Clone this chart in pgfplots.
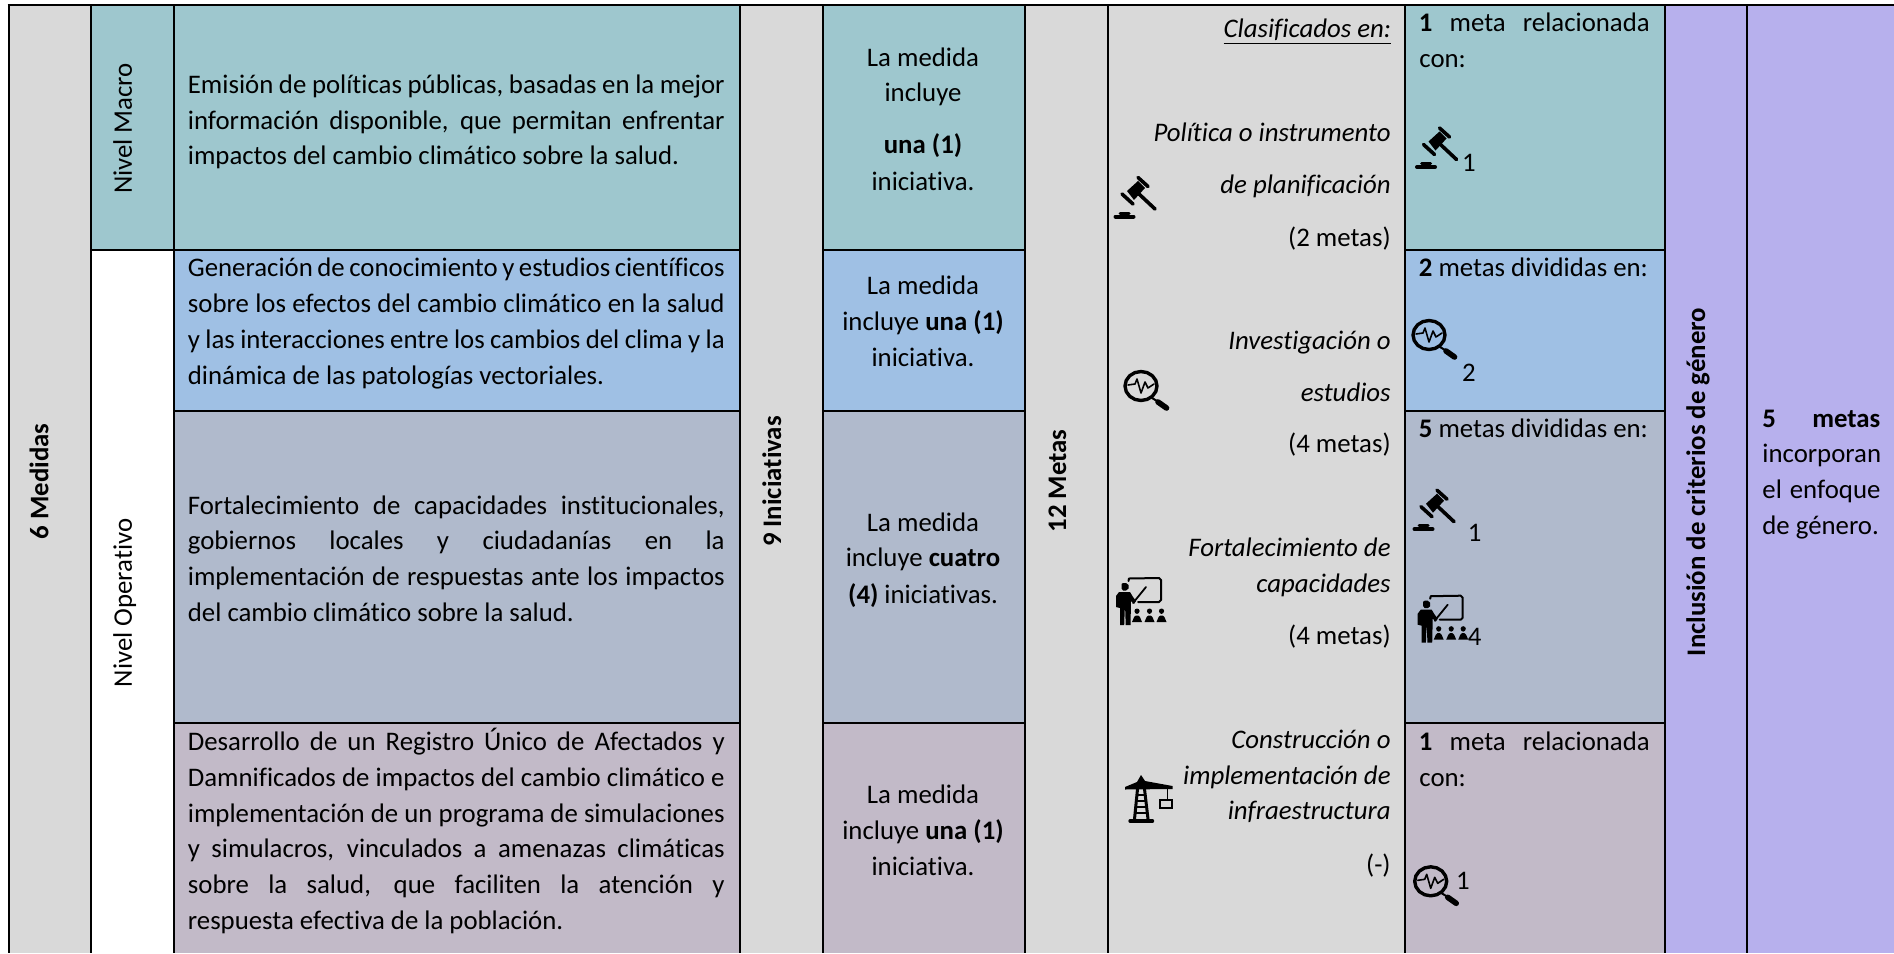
\documentclass[border=0pt]{standalone}
\usepackage{pgfplots}
\pgfplotsset{compat=1.18}
\usepackage{fontspec}
\setmainfont[Ligatures=NoCommon]{Carlito}
\definecolor{cgray}{HTML}{D9D9D9}
\definecolor{cteal}{HTML}{9EC7CE}
\definecolor{cblue}{HTML}{9FC0E4}
\definecolor{cslate}{HTML}{B0BACC}
\definecolor{cmauve}{HTML}{C2BAC8}
\definecolor{cpurple}{HTML}{B7B0ED}
\newcommand\fs{\fontsize{13.4}{13.4}\selectfont}
\newcommand\cell[5]{\addplot[fill=#5,draw=none] coordinates {(#1,#2)(#3,#2)(#3,#4)(#1,#4)} --cycle;}
\newcommand\vln[1]{\addplot[black,line width=1.15pt] coordinates {(#1,5)(#1,953)};}
\newcommand\hln[3]{\addplot[black,line width=1.05pt] coordinates {(#1,#3)(#2,#3)};}
\newcommand\jtx[4]{\node[anchor=base west,inner sep=0pt] at (axis cs:#1,#2+1) {\fs\makebox[#3pt][s]{#4}};}
\newcommand\ltx[3]{\node[anchor=base west,inner sep=0pt] at (axis cs:#1,#2+1) {\fs #3};}
\newcommand\ctx[3]{\node[anchor=base,inner sep=0pt] at (axis cs:#1,#2+1) {\fs #3};}
\newcommand\rtx[3]{\node[anchor=base east,inner sep=0pt] at (axis cs:#1,#2+1) {\fs #3};}
\newcommand\vtx[3]{\node[anchor=base,rotate=90,inner sep=0pt] at (axis cs:#1,#2) {\fs #3};}
\pgfplotsset{icon/.style 2 args={x filter/.expression={#1+x},y filter/.expression={#2+y}}}
\newcommand\stk[4]{\addplot[black,line width=#3pt,line cap=round,line join=round,icon={#1}{#2}] coordinates {#4};}
\newcommand\pol[3]{\addplot[fill=black,draw=none,icon={#1}{#2}] coordinates {#3} --cycle;}
\newcommand\gavel[2]{%
 \stk{#1}{#2}{2}{(15.5,56.5)(33.5,56.5)}
 \stk{#1}{#2}{1.5}{(20,53)(29,53)}
 \stk{#1}{#2}{1.8}{(22,34)(33,44)}
 \stk{#1}{#2}{1.8}{(38,17.5)(48,26.5)}
 \pol{#1}{#2}{(27,31)(38,21)(45,28)(34,40)}
 \stk{#1}{#2}{1.8}{(39,34)(55,49)}
}
\newcommand\lens[2]{%
 \addplot[black,line width=1.7pt,line join=round,icon={#1}{#2}] coordinates {(57,26)(55.8,31.5)(52.3,36.3)(47.1,39.4)(41,40.5)(34.9,39.4)(29.7,36.3)(26.2,31.5)(25,26)(26.2,20.5)(29.7,15.7)(34.9,12.6)(41,11.5)(47.1,12.6)(52.3,15.7)(55.8,20.5)} --cycle;
 \stk{#1}{#2}{0.8}{(28,25)(35,24)(37,19)(41,33)(45,22)(48,28)(54,24)}
 \stk{#1}{#2}{1}{(52,38)(57,41)}
 \stk{#1}{#2}{2.8}{(58,42)(66.5,48)}
}
\newcommand\person[3]{%
 \pol{#1}{#2}{(#3-1.2,45.5)(#3+1.2,45.5)(#3+2.9,47)(#3+5,52)(#3-5,52)(#3-2.9,47)}
 \pol{#1}{#2}{(#3-2.6,41)(#3-1.8,39.2)(#3,38.5)(#3+1.8,39.2)(#3+2.6,41)(#3+1.8,43)(#3,44)(#3-1.8,43)}
}
\newcommand\teacher[2]{%
 \stk{#1}{#2}{1}{(28.5,11)(29,8.5)(59,8)(61,10)(61,30)(59,32)(38,32)}
 \stk{#1}{#2}{0.9}{(33,33)(46,17)}
 \pol{#1}{#2}{(21.5,14)(23,13)(26,13)(28.5,15)(28.5,18.5)(26,20.5)(23,20.5)(21.5,18.5)}
 \pol{#1}{#2}{(19,22)(30,22)(33,27)(36,31)(34,34)(31,31)(30.5,55)(25.7,55)(25.2,40)(24.7,40)(24.2,55)(20,55)(20,38)(16,37)(16,26)}
 \person{#1}{#2}{37}
 \person{#1}{#2}{49.5}
 \person{#1}{#2}{61.5}
}
\begin{document}
\begin{tikzpicture}
\useasboundingbox (0,0) rectangle (947pt,476.5pt);
\begin{axis}[at={(0,0)},anchor=south west,scale only axis,width=947pt,height=476.5pt,
  xmin=0,xmax=1894,ymin=0,ymax=953,y dir=reverse,hide axis]
% --- cell fills
\cell{8.7}{5}{91}{953}{cgray}
\cell{91}{5}{173.5}{250}{cteal}
\cell{173.5}{5}{740}{250}{cteal}
\cell{173.5}{250}{740}{411}{cblue}
\cell{173.5}{411}{740}{723}{cslate}
\cell{173.5}{723}{740}{953}{cmauve}
\cell{740}{5}{823}{953}{cgray}
\cell{823}{5}{1025}{250}{cteal}
\cell{823}{250}{1025}{411}{cblue}
\cell{823}{411}{1025}{723}{cslate}
\cell{823}{723}{1025}{953}{cmauve}
\cell{1025}{5}{1405}{953}{cgray}
\cell{1405}{5}{1665}{250}{cteal}
\cell{1405}{250}{1665}{411}{cblue}
\cell{1405}{411}{1665}{723}{cslate}
\cell{1405}{723}{1665}{953}{cmauve}
\cell{1665}{5}{1894}{953}{cpurple}
% --- rules
\vln{8.7}\vln{91}\vln{174}\vln{740}\vln{823}\vln{1025}\vln{1108}\vln{1405}\vln{1665}\vln{1747}
\addplot[black,line width=1.4pt] coordinates {(7.6,5)(1894,5)};
\hln{91}{740}{250}\hln{823}{1025}{250}\hln{1405}{1665}{250}
\hln{173.5}{740}{411}\hln{823}{1025}{411}\hln{1405}{1665}{411}
\hln{173.5}{740}{723}\hln{823}{1025}{723}\hln{1405}{1665}{723}
% --- rotated headings
\vtx{48.5}{481.5}{\bfseries 6 Medidas}
\vtx{131.8}{128.5}{Nivel Macro}
\vtx{131.8}{603}{Nivel Operativo}
\vtx{781}{481.5}{\bfseries 9 Iniciativas}
\vtx{1066}{481}{\bfseries 12 Metas}
\vtx{1705}{482}{\bfseries Inclusión de criterios de género}
% --- measures
\def\W{268.4}
\jtx{187.5}{92}{\W}{Emisión de políticas públicas, basadas en la mejor}
\jtx{187.5}{128}{\W}{información disponible, que permitan enfrentar}
\ltx{187.5}{163.5}{impactos del cambio climático sobre la salud.}
\jtx{187.5}{275}{\W}{Generación de conocimiento y estudios científicos}
\jtx{187.5}{311.5}{\W}{sobre los efectos del cambio climático en la salud}
\jtx{187.5}{347.5}{\W}{y las interacciones entre los cambios del clima y la}
\ltx{187.5}{383.5}{dinámica de las patologías vectoriales.}
\jtx{187.5}{513}{\W}{Fortalecimiento de capacidades institucionales,}
\jtx{187.5}{548.5}{\W}{gobiernos locales y ciudadanías en la}
\jtx{187.5}{584}{\W}{implementación de respuestas ante los impactos}
\ltx{187.5}{620}{del cambio climático sobre la salud.}
\jtx{187.5}{749.7}{\W}{Desarrollo de un Registro Único de Afectados y}
\jtx{187.5}{785}{\W}{Damnificados de impactos del cambio climático e}
\jtx{187.5}{821}{\W}{implementación de un programa de simulaciones}
\jtx{187.5}{856.5}{\W}{y simulacros, vinculados a amenazas climáticas}
\jtx{187.5}{892.5}{\W}{sobre la salud, que faciliten la atención y}
\ltx{187.5}{928}{respuesta efectiva de la población.}
% --- initiatives
\ctx{923}{65}{La medida}
\ctx{923}{100.7}{incluye}
\ctx{923}{152.7}{\bfseries una (1)}
\ctx{923}{189}{iniciativa.}
\ctx{923}{293.3}{La medida}
\ctx{923}{329.3}{incluye \textbf{una (1)}}
\ctx{923}{365.7}{iniciativa.}
\ctx{923}{530.3}{La medida}
\ctx{923}{565.7}{incluye \textbf{cuatro}}
\ctx{923}{602}{\textbf{(4)} iniciativas.}
\ctx{923}{802.3}{La medida}
\ctx{923}{838.7}{incluye \textbf{una (1)}}
\ctx{923}{874.7}{iniciativa.}
% --- classification
\rtx{1391.5}{36.7}{\itshape\underline{Clasificados en:}}
\rtx{1391}{140.7}{\itshape Política o instrumento}
\rtx{1391}{192.7}{\itshape de planificación}
\rtx{1391}{245}{(2 metas)}
\rtx{1391}{348.3}{\itshape Investigación o}
\rtx{1391}{400}{\itshape estudios}
\rtx{1391}{451.7}{(4 metas)}
\rtx{1391}{555.7}{\itshape Fortalecimiento de}
\rtx{1391}{591.3}{\itshape capacidades}
\rtx{1391}{643.7}{(4 metas)}
\rtx{1391}{747.3}{\itshape Construcción o}
\rtx{1391}{783}{\itshape implementación de}
\rtx{1391}{818.7}{\itshape infraestructura}
\rtx{1391}{872}{(-)}
% --- goals
\def\M{115.4}
\jtx{1418.5}{31}{\M}{\textbf{1} meta relacionada}
\ltx{1419}{66.7}{con:}
\ltx{1418.5}{275}{\textbf{2} metas divididas en:}
\ltx{1418.5}{436}{\textbf{5} metas divididas en:}
\jtx{1418.5}{749.7}{\M}{\textbf{1} meta relacionada}
\ltx{1419}{785}{con:}
\ctx{1469}{170.7}{1}
\ctx{1469}{380}{2}
\ctx{1474.7}{540.7}{1}
\ctx{1474.7}{644.7}{4}
\ctx{1463}{888}{1}
% --- gender
\jtx{1762}{426.7}{59}{\textbf{5} \textbf{metas}}
\jtx{1762}{461.7}{59}{incorporan}
\jtx{1762}{497}{59}{el enfoque}
\ltx{1762}{533.7}{de género.}
% --- pictograms
\gavel{1100}{160}
\gavel{1401.5}{110.5}
\gavel{1399}{472.7}
\lens{1100}{360}
\lens{1388}{309}
\lens{1389.7}{855.3}
\teacher{1100}{570}
\teacher{1401.7}{587.7}
% crane
\pol{1110}{765}{(15,22)(27,17)(31,10)(35,16)(62.5,21)(62.5,24)(15,24.5)}
\stk{1110}{765}{1.5}{(27.5,24)(24.5,54)}
\stk{1110}{765}{1.5}{(34.5,24)(38,54)}
\stk{1110}{765}{0.9}{(27,30)(35,30)}
\stk{1110}{765}{0.9}{(26.5,36)(36,36)}
\stk{1110}{765}{0.9}{(26,42)(36.5,42)}
\stk{1110}{765}{0.9}{(25.5,48)(37,48)}
\stk{1110}{765}{1.7}{(20,56)(42.5,56)}
\stk{1110}{765}{0.7}{(57.5,24)(57.5,34)}
\addplot[black,line width=1pt,icon={1110}{765}] coordinates {(50,34.5)(61.5,34.5)(61.5,42.5)(50,42.5)} --cycle;
\end{axis}
\end{tikzpicture}
\end{document}
